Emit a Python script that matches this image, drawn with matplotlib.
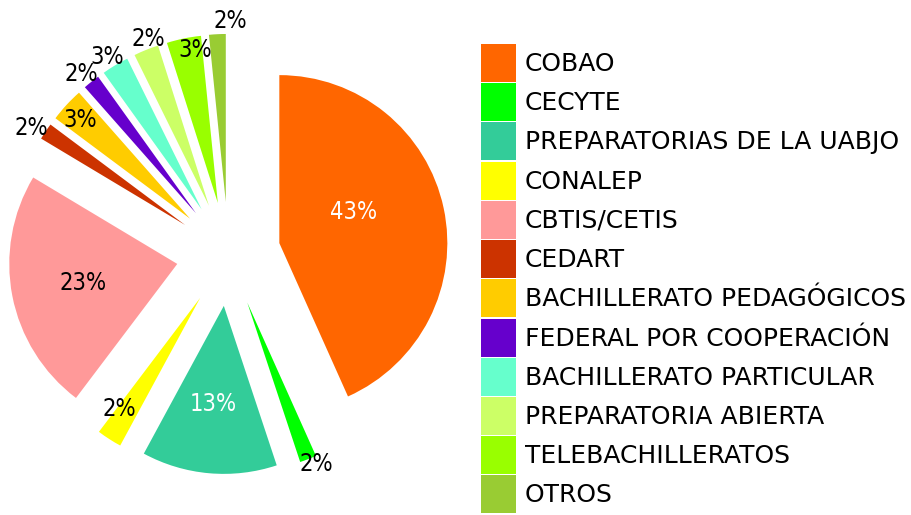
import matplotlib.pyplot as plt
import numpy as np

# subsistemas de bachillerato y su porcentaje
categorias = ['COBAO', 'CECYTE', 'PREPARATORIAS DE LA UABJO', 'CONALEP',
              'CBTIS/CETIS', 'CEDART', 'BACHILLERATO PEDAGÓGICOS',
              'FEDERAL POR COOPERACIÓN', 'BACHILLERATO PARTICULAR',
              'PREPARATORIA ABIERTA', 'TELEBACHILLERATOS', 'OTROS']
porcentajes = [43.3, 1.6, 13.0, 2.4, 23.3, 1.6, 3.3, 1.6, 2.6, 2.4, 3.3, 1.6]

colores = ['#FF6600', '#00FF00', '#33CC99', '#FFFF00', '#FF9999', '#CC3300',
           '#FFCC00', '#6600CC', '#66FFCC', '#CCFF66', '#99FF00', '#99CC33']
# posición de cada etiqueta: distancia radial y pequeño giro (grados)
dist_etiq = [0.48, 1.045, 0.59, 0.82, 0.57, 1.085, 0.88, 1.075, 1.068, 1.057, 0.92, 1.078]
giro_etiq = [10.5, 1.9, -1.3, -3.3, 0.4, 1.6, 0.9, 1.0, 0.8, -1.9, -3.2, -4.3]
color_etiq = ['white', 'black', 'white', 'black', 'black', 'black',
              'black', 'black', 'black', 'black', 'black', 'black']

fig = plt.figure(figsize=(9.12, 5.15), dpi=100)
r_px = 168.0
cx, cy = 228.4, 254.0
ax = fig.add_axes([0, 0, 456 / 912, 1])

wedges, _ = ax.pie(porcentajes, colors=colores, startangle=90, counterclock=False,
                   explode=[0.31] * len(porcentajes), radius=1,
                   wedgeprops=dict(linewidth=0))
ax.set_xlim(-cx / r_px, (456 - cx) / r_px)
ax.set_ylim(-(515 - cy) / r_px, cy / r_px)
ax.set_aspect('auto')

total = sum(porcentajes)
for i, w in enumerate(wedges):
    mid = np.radians((w.theta1 + w.theta2) / 2 + giro_etiq[i])
    x = w.center[0] + dist_etiq[i] * w.r * np.cos(mid)
    y = w.center[1] + dist_etiq[i] * w.r * np.sin(mid)
    ax.text(x, y, '%.0f%%' % (porcentajes[i] / total * 100), ha='center', va='center',
            fontsize=17, color=color_etiq[i], fontstretch='condensed',
            family=['DejaVu Sans'])

fs = 18
px = fs * 100 / 72
fig.legend(wedges, categorias, loc='upper left', bbox_to_anchor=(481 / 912, 1 - 44 / 515),
           frameon=False, fontsize=fs, handlelength=35 / px, handleheight=1.96,
           labelspacing=1.25 / px, handletextpad=9 / px, borderpad=0,
           borderaxespad=0)

fig.savefig('out.png', dpi=100)
